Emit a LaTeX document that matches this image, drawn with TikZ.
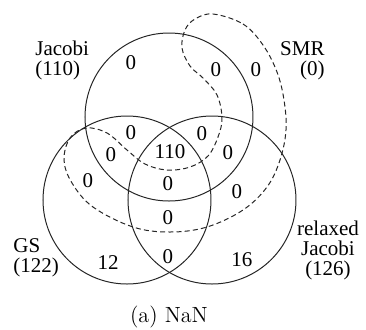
\documentclass[tikz,border=0pt]{standalone}
\usepackage{fontspec}
\newfontfamily\tmfont{Liberation Serif}
\begin{document}
\begin{tikzpicture}[x=0.5pt,y=-0.5pt,
  setcircle/.style={draw=black!85,line width=0.5pt},
  smrline/.style={draw=black!85,line width=0.5pt,dash pattern=on 2.5pt off 1.6pt},
  num/.style={font=\tmfont\fontsize{10.5}{10}\selectfont,inner sep=0pt},
  setlabel/.style={font=\tmfont\fontsize{10.5}{10}\selectfont,inner sep=0pt}]
\useasboundingbox (0,0) rectangle (366,329);
% circles
\node[setcircle,circle,minimum size=84pt,inner sep=0pt] (jac) at (169,117) {};
\node[setcircle,circle,minimum size=84pt,inner sep=0pt] (gs) at (127,200) {};
\node[setcircle,circle,minimum size=84pt,inner sep=0pt] (rj) at (212,200) {};
% SMR dashed region
\draw[smrline] plot[smooth cycle,tension=0.6] coordinates {
 (213,14) (243,24) (263,45) (277,72) (284,100) (286,130) (280,160) (267,187)
 (243,210) (207,227) (170,232) (133,227) (93,207) (72,183) (64,160) (70,138)
 (86,128) (107,133) (127,150) (145,164) (167,170) (190,167) (208,156) (218,137)
 (222,118) (217,95) (203,78) (190,66) (182,48) (185,30) (195,19)};
% set labels
\node[setlabel,align=left,anchor=west] (ljac) at (35,60) {Jacobi\\(110)};
\node[setlabel,align=right,anchor=east] (lsmr) at (325,61) {SMR\\(0)};
\node[setlabel,align=left,anchor=west] (lgs) at (13,258) {GS\\(122)};
\node[setlabel,align=center] (lrj) at (328,250) {relaxed\\Jacobi\\(126)};
% region counts
\node[num] (n1) at (131,63) {0};
\node[num] (n2) at (216,70) {0};
\node[num] (n3) at (256,70) {0};
\node[num] (n4) at (131,133) {0};
\node[num] (n5) at (111,155) {0};
\node[num] (n6) at (170,152) {110};
\node[num] (n7) at (202,134) {0};
\node[num] (n8) at (228,153) {0};
\node[num] (n9) at (88,181) {0};
\node[num] (n10) at (168,184) {0};
\node[num] (n11) at (237,192) {0};
\node[num] (n12) at (168,218) {0};
\node[num] (n13) at (108,263) {12};
\node[num] (n14) at (168,257) {0};
\node[num] (n15) at (242,260) {16};
% caption
\node[font=\fontsize{11}{13}\selectfont,inner sep=0pt] (cap) at (169,317) {(a) NaN};
\end{tikzpicture}
\end{document}
